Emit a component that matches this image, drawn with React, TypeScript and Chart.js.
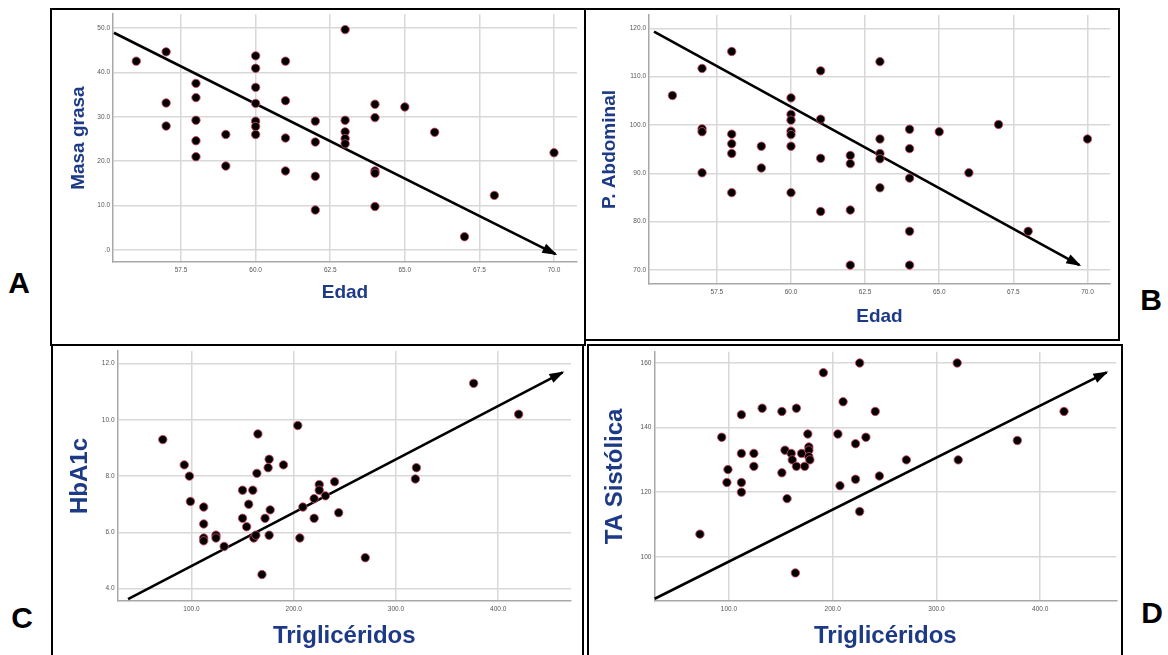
import React, { useEffect, useRef } from 'react';
import { Chart, registerables } from 'chart.js';
Chart.register(...registerables);

// ---------- Panel A: Edad vs Masa grasa ----------
const edadA = [56, 57, 57, 57, 58, 58, 58, 58, 58, 59, 59, 60, 60, 60, 60, 60, 60, 60, 61, 61, 61, 61, 62, 62, 62, 62, 63, 63, 63, 63, 63, 64, 64, 64, 64, 64, 65, 66, 67, 68, 70];
const masaGrasa = [42.5, 44.6, 33.1, 27.9, 37.5, 34.3, 29.2, 24.6, 21.0, 26.0, 18.9, 43.7, 40.9, 36.6, 33.0, 29.0, 27.8, 26.0, 42.5, 33.6, 25.2, 17.8, 29.0, 24.3, 16.6, 9.0, 49.6, 29.2, 26.6, 25.1, 23.9, 32.8, 29.8, 17.8, 17.3, 9.8, 32.2, 26.5, 3.0, 12.3, 21.9];
const arrowAX = [55.25, 70.05];
const arrowAY = [48.9, -0.9];
const ticksAX = [57.5, 60, 62.5, 65, 67.5, 70];
const ticksAY = [0, 10, 20, 30, 40, 50];

// ---------- Panel B: Edad vs P. Abdominal ----------
const edadB = [56, 57, 57, 57, 57, 58, 58, 58, 58, 58, 59, 59, 60, 60, 60, 60, 60, 60, 60, 61, 61, 61, 61, 62, 62, 62, 62, 63, 63, 63, 63, 63, 64, 64, 64, 64, 64, 65, 66, 67, 68, 70];
const pAbdominal = [106.1, 111.7, 99.2, 98.6, 90.1, 115.2, 98.1, 96.1, 94.1, 86.0, 95.6, 91.1, 105.6, 102.2, 101.0, 98.7, 98.0, 95.6, 86.0, 111.2, 101.2, 93.1, 82.1, 93.7, 92.0, 82.4, 71.0, 113.1, 97.1, 94.1, 93.0, 87.0, 99.1, 95.1, 89.0, 78.0, 71.0, 98.6, 90.1, 100.1, 78.0, 97.1];
const arrowBX = [55.38, 69.73];
const arrowBY = [119.3, 71.0];
const ticksBX = [57.5, 60, 62.5, 65, 67.5, 70];
const ticksBY = [70, 80, 90, 100, 110, 120];

// ---------- Panel C: Triglicéridos vs HbA1c ----------
const trigC = [72, 93, 98, 99, 112, 112, 112, 112, 124, 124, 132, 150, 150, 154, 156, 160, 161, 163, 164, 165, 169, 172, 175, 176, 176, 177, 190, 204, 206, 209, 220, 220, 225, 225, 231, 240, 244, 270, 319, 320, 376, 420];
const hba1c = [9.3, 8.4, 8.0, 7.1, 6.9, 6.3, 5.8, 5.7, 5.9, 5.8, 5.5, 7.5, 6.5, 6.2, 7.0, 7.5, 5.8, 5.9, 8.1, 9.5, 4.5, 6.5, 8.3, 8.6, 5.9, 6.8, 8.4, 9.8, 5.8, 6.9, 7.2, 6.5, 7.7, 7.5, 7.3, 7.8, 6.7, 5.1, 7.9, 8.3, 11.3, 10.2];
const arrowCX = [38, 463];
const arrowCY = [3.63, 11.69];
const ticksCX = [100, 200, 300, 400];
const ticksCY = [4, 6, 8, 10, 12];

// ---------- Panel D: Triglicéridos vs TA Sistólica ----------
const trigD = [72, 93, 99, 98, 112, 112, 112, 112, 124, 124, 132, 151, 151, 154, 156, 160, 161, 164, 165, 165, 170, 173, 176, 177, 177, 177, 178, 191, 205, 207, 210, 222, 222, 226, 226, 232, 241, 245, 271, 320, 321, 378, 423];
const taSistolica = [107, 137, 127, 123, 144, 132, 123, 120, 132, 128, 146, 145, 126, 133, 118, 132, 130, 95, 146, 128, 132, 128, 138, 134, 133, 131, 130, 157, 138, 122, 148, 135, 124, 160, 114, 137, 145, 125, 130, 160, 130, 136, 145];
const arrowDX = [28.4, 464];
const arrowDY = [87.0, 157.1];
const ticksDX = [100, 200, 300, 400];
const ticksDY = [100, 120, 140, 160];

const TITLE_COLOR = '#1d3a86';
const FONT = "'Liberation Sans', Arial, sans-serif";

const fmt1 = (v: number) => (v === 0 ? '.0' : v.toFixed(1));
const fmt0 = (v: number) => String(Math.round(v));

const arrowHeadPlugin = {
  id: 'arrowHead',
  afterDatasetsDraw(chart: any) {
    const ctx = chart.ctx;
    chart.data.datasets.forEach((ds: any, i: number) => {
      if (ds.label !== 'arrow') return;
      const pts = chart.getDatasetMeta(i).data;
      if (pts.length < 2) return;
      const p1 = pts[pts.length - 2];
      const p2 = pts[pts.length - 1];
      const ang = Math.atan2(p2.y - p1.y, p2.x - p1.x);
      const len = 13;
      const half = 5;
      const c = Math.cos(ang);
      const s = Math.sin(ang);
      ctx.save();
      ctx.fillStyle = '#000';
      ctx.beginPath();
      ctx.moveTo(p2.x + 2 * c, p2.y + 2 * s);
      ctx.lineTo(p2.x - len * c + half * s, p2.y - len * s - half * c);
      ctx.lineTo(p2.x - len * c - half * s, p2.y - len * s + half * c);
      ctx.closePath();
      ctx.fill();
      ctx.restore();
    });
  },
};

type Panel = {
  box: { left: number; top: number; width: number; height: number };
  xs: number[];
  ys: number[];
  ax: number[];
  ay: number[];
  xMin: number;
  xMax: number;
  yMin: number;
  yMax: number;
  xTicks: number[];
  yTicks: number[];
  fmtX: (v: number) => string;
  fmtY: (v: number) => string;
  xTitle: string;
  yTitle: string;
  titleSize: number;
  yAxisWidth: number;
  xAxisHeight: number;
  padRight: number;
  padTop: number;
  xTitlePad: number;
  yTitlePad: number;
};

const panels: Panel[] = [
  {
    box: { left: 51, top: 9, width: 534, height: 336 },
    xs: edadA, ys: masaGrasa, ax: arrowAX, ay: arrowAY,
    xMin: 55.22, xMax: 70.77, yMin: -2.69, yMax: 53.07,
    xTicks: ticksAX, yTicks: ticksAY, fmtX: fmt1, fmtY: fmt1,
    xTitle: 'Edad', yTitle: 'Masa grasa', titleSize: 19,
    yAxisWidth: 62, xAxisHeight: 83, padRight: 8, padTop: 4, xTitlePad: 40.6, yTitlePad: 16.1,
  },
  {
    box: { left: 585, top: 9, width: 534, height: 331 },
    xs: edadB, ys: pAbdominal, ax: arrowBX, ay: arrowBY,
    xMin: 55.21, xMax: 70.76, yMin: 67.1, yMax: 122.75,
    xTicks: ticksBX, yTicks: ticksBY, fmtX: fmt1, fmtY: fmt1,
    xTitle: 'Edad', yTitle: 'P. Abdominal', titleSize: 19,
    yAxisWidth: 64, xAxisHeight: 56, padRight: 9, padTop: 6, xTitlePad: 11.9, yTitlePad: 13.6,
  },
  {
    box: { left: 52, top: 345, width: 531, height: 310 },
    xs: trigC, ys: hba1c, ax: arrowCX, ay: arrowCY,
    xMin: 27.7, xMax: 471.2, yMin: 3.56, yMax: 12.45,
    xTicks: ticksCX, yTicks: ticksCY, fmtX: fmt1, fmtY: fmt1,
    xTitle: 'Triglicéridos', yTitle: 'HbA1c', titleSize: 24,
    yAxisWidth: 65.5, xAxisHeight: 54, padRight: 12, padTop: 6, xTitlePad: 3.9, yTitlePad: 13.6,
  },
  {
    box: { left: 588, top: 345, width: 534, height: 310 },
    xs: trigD, ys: taSistolica, ax: arrowDX, ay: arrowDY,
    xMin: 28.1, xMax: 473.4, yMin: 86.3, yMax: 163.5,
    xTicks: ticksDX, yTicks: ticksDY, fmtX: fmt1, fmtY: fmt0,
    xTitle: 'Triglicéridos', yTitle: 'TA Sistólica', titleSize: 24,
    yAxisWidth: 66.4, xAxisHeight: 54, padRight: 5.7, padTop: 6.7, xTitlePad: 3.9, yTitlePad: 12.6,
  },
];

function zeroPad(s: any) {
  s.paddingTop = 0;
  s.paddingBottom = 0;
  s.paddingLeft = 0;
  s.paddingRight = 0;
}

function PanelChart({ p }: { p: Panel }) {
  const ref = useRef<HTMLCanvasElement | null>(null);
  useEffect(() => {
    if (!ref.current) return;
    const tickFont = { size: 6.5, family: FONT };
    const titleFont = { size: p.titleSize, weight: 'bold' as const, family: FONT, lineHeight: 1.2 };
    const chart = new Chart(ref.current, {
      type: 'scatter',
      data: {
        datasets: [
          {
            label: 'points',
            data: p.xs.map((x, i) => ({ x, y: p.ys[i] })),
            backgroundColor: '#000',
            borderColor: 'rgba(205,70,100,0.85)',
            borderWidth: 1,
            pointRadius: 4.2,
          },
          {
            label: 'arrow',
            data: p.ax.map((x, i) => ({ x, y: p.ay[i] })),
            showLine: true,
            borderColor: '#000',
            borderWidth: 2.6,
            pointRadius: 0,
            clip: false as any,
          } as any,
        ],
      },
      options: {
        animation: false,
        responsive: false,
        devicePixelRatio: 1,
        events: [],
        layout: { padding: { left: 0, top: p.padTop, right: p.padRight, bottom: 0 } },
        plugins: { legend: { display: false }, tooltip: { enabled: false } },
        scales: {
          x: {
            type: 'linear',
            position: 'bottom',
            min: p.xMin,
            max: p.xMax,
            afterBuildTicks: (s: any) => {
              s.ticks = p.xTicks.map((v) => ({ value: v }));
            },
            afterFit: (s: any) => {
              s.height = p.xAxisHeight;
              zeroPad(s);
            },
            ticks: { font: tickFont, color: '#555', padding: 4, maxRotation: 0, callback: (v: any) => p.fmtX(Number(v)) },
            grid: { color: '#d8d8d8', lineWidth: 1.5, drawTicks: false },
            border: { color: '#a8a8a8', width: 1.5 },
            title: { display: true, text: p.xTitle, color: TITLE_COLOR, font: titleFont, padding: { top: 0, bottom: p.xTitlePad } },
          },
          y: {
            type: 'linear',
            position: 'left',
            min: p.yMin,
            max: p.yMax,
            afterBuildTicks: (s: any) => {
              s.ticks = p.yTicks.map((v) => ({ value: v }));
            },
            afterFit: (s: any) => {
              s.width = p.yAxisWidth;
              zeroPad(s);
            },
            ticks: { font: tickFont, color: '#555', padding: 3, callback: (v: any) => p.fmtY(Number(v)) },
            grid: { color: '#d8d8d8', lineWidth: 1.5, drawTicks: false },
            border: { color: '#a8a8a8', width: 1.5 },
            title: { display: true, text: p.yTitle, color: TITLE_COLOR, font: titleFont, padding: { top: p.yTitlePad, bottom: 0 } },
          },
        },
      },
      plugins: [arrowHeadPlugin],
    });
    return () => chart.destroy();
  }, [p]);
  return (
    <canvas
      ref={ref}
      width={p.box.width}
      height={p.box.height}
      style={{ position: 'absolute', left: p.box.left, top: p.box.top, width: p.box.width, height: p.box.height }}
    />
  );
}

const frames = [
  { left: 50, top: 8, width: 536, height: 338 },
  { left: 584, top: 8, width: 536, height: 333 },
  { left: 51, top: 344, width: 533, height: 330 },
  { left: 587, top: 344, width: 536, height: 330 },
];

const letters = [
  { t: 'A', x: 19, y: 283 },
  { t: 'B', x: 1151, y: 300 },
  { t: 'C', x: 22, y: 618 },
  { t: 'D', x: 1152, y: 613 },
];

export default function App() {
  return (
    <div style={{ position: 'absolute', left: 0, top: 0, width: 1168, height: 655, overflow: 'hidden', background: '#fff' }}>
      {panels.map((p, i) => (
        <PanelChart key={i} p={p} />
      ))}
      {frames.map((f, i) => (
        <div
          key={'f' + i}
          style={{
            position: 'absolute',
            left: f.left,
            top: f.top,
            width: f.width,
            height: f.height,
            border: '2.5px solid #000',
            boxSizing: 'border-box',
            pointerEvents: 'none',
          }}
        />
      ))}
      {letters.map((l) => (
        <div
          key={l.t}
          style={{
            position: 'absolute',
            left: l.x,
            top: l.y,
            transform: 'translate(-50%, -50%)',
            fontFamily: FONT,
            fontWeight: 'bold',
            fontSize: 30,
            lineHeight: 1,
            color: '#000',
          }}
        >
          {l.t}
        </div>
      ))}
    </div>
  );
}
